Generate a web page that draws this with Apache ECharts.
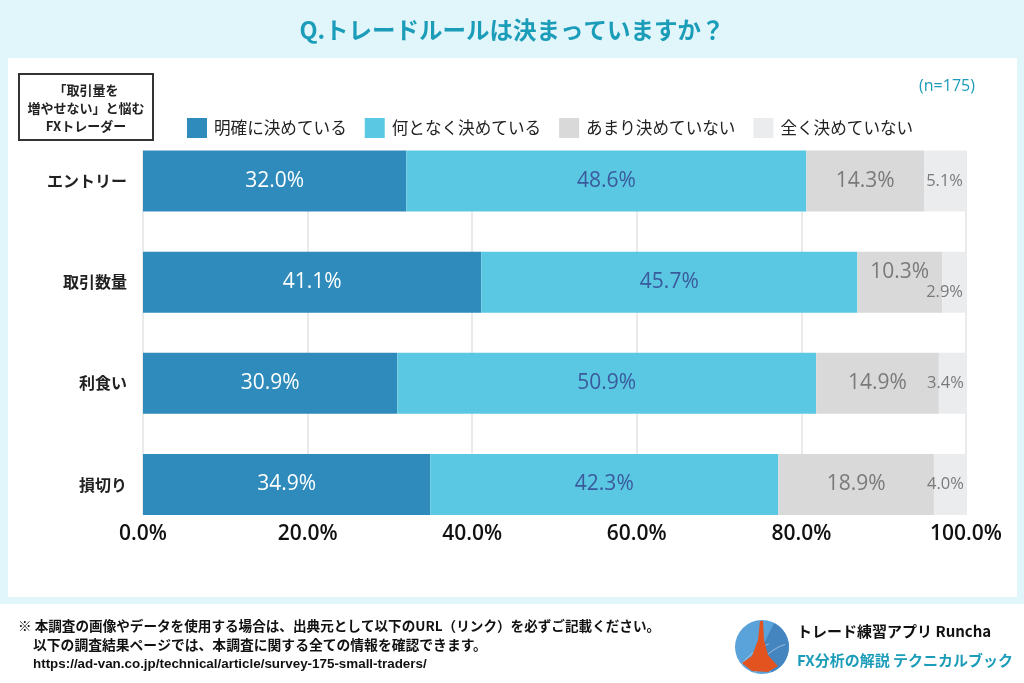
<!DOCTYPE html>
<html><head><meta charset="utf-8">
<script src="https://cdn.jsdelivr.net/npm/echarts@6.0.0/dist/echarts.min.js"></script>
<style>html,body{margin:0;padding:0;background:#fff}#c{width:1024px;height:683px}</style>
</head><body><div id="c"></div>
<script>
const categories = ['エントリー', '取引数量', '利食い', '損切り'];
const seriesNames = ['明確に決めている', '何となく決めている', 'あまり決めていない', '全く決めていない'];
const clearlyDecided = [32.0, 41.1, 30.9, 34.9];
const somewhatDecided = [48.6, 45.7, 50.9, 42.3];
const notReallyDecided = [14.3, 10.3, 14.9, 18.9];
const notAtAllDecided = [5.1, 2.9, 3.4, 4.0];
const xTickMin = 0, xTickMax = 100, xTickStep = 20;
const sampleNote = '(n=175)';

const JP = '"Noto Sans CJK JP", "Noto Sans", sans-serif';
const NUM = '"Open Sans", "Noto Sans", sans-serif';
const TEAL = '#1b9cb8';

const allSeries = [clearlyDecided, somewhatDecided, notReallyDecided, notAtAllDecided];
const colors = ['#2e8bbb', '#5bc8e3', '#d9d9d9', '#ebecee'];
const labelColors = ['#ffffff', '#3a5a9c', '#7a7a7a', '#7a7a7a'];

const series = allSeries.map((arr, i) => ({
  name: seriesNames[i],
  type: 'bar',
  stack: 'total',
  xAxisIndex: 1,
  yAxisIndex: 1,
  barWidth: 61,
  clip: false,
  itemStyle: { color: colors[i] },
  label: {
    show: true,
    position: i === 3 ? 'insideRight' : 'inside',
    distance: 3,
    color: labelColors[i],
    fontFamily: NUM,
    fontSize: i === 3 ? 16.5 : 21,
    formatter: p => p.value.toFixed(1) + '%'
  },
  data: arr.map((v, j) => {
    const crowded = notAtAllDecided[j] < 3;
    if (crowded && i === 2) return { value: v, label: { offset: [0, -10] } };
    if (crowded && i === 3) return { value: v, label: { offset: [0, 10] } };
    return v;
  })
}));

const chart = echarts.init(document.getElementById('c'), null, { renderer: 'canvas' });
chart.setOption({
  backgroundColor: '#ffffff',
  animation: false,
  title: {
    text: 'Q.トレードルールは決まっていますか？',
    left: 'center',
    top: 13,
    textStyle: { color: TEAL, fontSize: 23.5, fontWeight: 'bold', fontFamily: JP }
  },
  legend: {
    left: 182,
    top: 113,
    itemWidth: 20,
    itemHeight: 20,
    itemGap: 18,
    icon: 'rect',
    data: seriesNames,
    textStyle: { color: '#222', fontSize: 16.6, fontFamily: JP, padding: [0, 0, 0, 2] }
  },
  grid: [
    { left: 143, right: 58, top: 151, bottom: 168 },
    { left: 143, right: 58, top: 181, bottom: 198.5 }
  ],
  xAxis: [
    {
      gridIndex: 0, type: 'value', min: xTickMin, max: xTickMax, interval: xTickStep,
      axisLine: { show: false }, axisTick: { show: false },
      splitLine: { show: true, lineStyle: { color: '#e3e3e3', width: 1.5 } },
      axisLabel: { color: '#111', fontSize: 21, fontWeight: 600, fontFamily: NUM, margin: 9,
        formatter: v => v.toFixed(1) + '%' }
    },
    { gridIndex: 1, type: 'value', min: xTickMin, max: xTickMax, show: false }
  ],
  yAxis: [
    { gridIndex: 0, type: 'value', show: false },
    {
      gridIndex: 1, type: 'category', data: categories, inverse: true, boundaryGap: false,
      axisLine: { show: false }, axisTick: { show: false }, splitLine: { show: false },
      axisLabel: { color: '#222', fontSize: 16, fontWeight: 'bold', fontFamily: JP, margin: 16 }
    }
  ],
  series: series,
  graphic: [
    { type: 'rect', z: -100, silent: true, shape: { x: 0, y: 0, width: 1024, height: 604 }, style: { fill: '#e0f6fb' } },
    { type: 'rect', z: -99, silent: true, shape: { x: 8, y: 58, width: 1009, height: 539 }, style: { fill: '#ffffff' } },
    { type: 'rect', z: 10, shape: { x: 19, y: 74, width: 134, height: 66 }, style: { fill: '#fff', stroke: '#333', lineWidth: 2 } },
    { type: 'text', z: 11, x: 86, y: 81, style: { text: '「取引量を\n増やせない」と悩む\nFXトレーダー', fill: '#222', font: 'bold 13px ' + JP, align: 'center', lineHeight: 18 } },
    { type: 'text', z: 11, x: 947, y: 86, style: { text: sampleNote, fill: TEAL, font: '16px ' + NUM, align: 'center', verticalAlign: 'middle' } },
    { type: 'text', z: 11, x: 18, y: 626, style: { text: '※ 本調査の画像やデータを使用する場合は、出典元として以下のURL（リンク）を必ずご記載ください。', fill: '#111', font: 'bold 13.6px ' + JP, verticalAlign: 'middle' } },
    { type: 'text', z: 11, x: 33, y: 645, style: { text: '以下の調査結果ページでは、本調査に関する全ての情報を確認できます。', fill: '#111', font: 'bold 13.8px ' + JP, verticalAlign: 'middle' } },
    { type: 'text', z: 11, x: 33, y: 664, style: { text: 'https://ad-van.co.jp/technical/article/survey-175-small-traders/', fill: '#111', font: 'bold 13.4px "Liberation Sans Narrow", "Liberation Sans", sans-serif', verticalAlign: 'middle' } },
    { type: 'circle', z: 11, shape: { cx: 762, cy: 647, r: 27 }, style: { fill: '#5aa3da' } },
    { type: 'sector', z: 11, shape: { cx: 762, cy: 647, r: 27, startAngle: -1.1, endAngle: 1.2 }, style: { fill: '#4585bf' } },
    { type: 'arc', z: 12, shape: { cx: 790, cy: 700, r: 60, startAngle: 3.45, endAngle: 4.35 }, style: { stroke: 'rgba(255,255,255,0.45)', lineWidth: 1, fill: 'none' } },
    { type: 'arc', z: 12, shape: { cx: 800, cy: 690, r: 48, startAngle: 3.35, endAngle: 4.4 }, style: { stroke: 'rgba(255,255,255,0.45)', lineWidth: 1, fill: 'none' } },
    { type: 'polygon', z: 13, shape: { points: [[760, 621], [763, 621], [764, 640], [768, 655], [775, 663], [778, 666], [768, 672], [752, 671], [742, 663], [752, 656], [758, 640]] }, style: { fill: '#e2531f' } },
    { type: 'text', z: 11, x: 797, y: 631, style: { text: 'トレード練習アプリ Runcha', fill: '#111', font: 'bold 15px ' + JP, verticalAlign: 'middle' } },
    { type: 'text', z: 11, x: 797, y: 660, style: { text: 'FX分析の解説 テクニカルブック', fill: TEAL, font: 'bold 15px ' + JP, verticalAlign: 'middle' } }
  ]
});
</script></body></html>
